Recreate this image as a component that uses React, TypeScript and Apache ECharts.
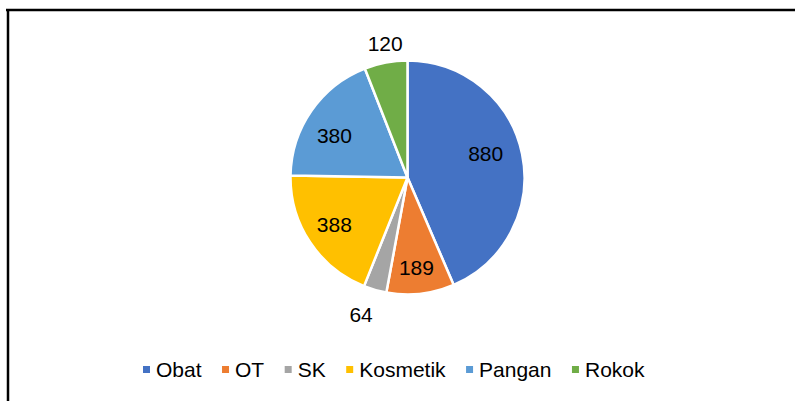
import React, { useEffect, useRef } from "react";
import * as echarts from "echarts";

const categories = ["Obat", "OT", "SK", "Kosmetik", "Pangan", "Rokok"];
const values = [880, 189, 64, 388, 380, 120];
const colors = ["#4472C4", "#ED7D31", "#A5A5A5", "#FFC000", "#5B9BD5", "#70AD47"];
const outsideLabelNames = ["SK", "Rokok"];
// fine-tuning of label placement (style only)
const labelOffsets: Record<string, number[]> = {
  Obat: [-9, -6],
  OT: [-1, 2],
  SK: [-7, 1],
  Kosmetik: [1, -2],
  Pangan: [0, 9],
  Rokok: [4, 6],
};

const FONT = "'Liberation Sans', Arial, sans-serif";

export default function App() {
  const ref = useRef<HTMLDivElement>(null);
  useEffect(() => {
    if (!ref.current) return;
    const chart = echarts.init(ref.current, null, { renderer: "svg" });
    const center = [407.5, 177.5];
    const baseData = categories.map((name, i) => ({ name, value: values[i] }));
    const labelStyle = { color: "#000", fontSize: 21, fontFamily: FONT };
    const labelData = (outside: boolean) =>
      baseData.map((d) => ({
        ...d,
        label: {
          show: outsideLabelNames.includes(d.name) === outside,
          position: "inside",
          formatter: "{c}",
          offset: labelOffsets[d.name],
          ...labelStyle,
        },
      }));
    const labelSeries = (name: string, radius: number[], outside: boolean) => ({
      type: "pie",
      name,
      center,
      radius,
      startAngle: 90,
      clockwise: true,
      silent: true,
      legendHoverLink: false,
      itemStyle: { color: "rgba(0,0,0,0)", borderWidth: 0 },
      labelLine: { show: false },
      emphasis: { disabled: true },
      data: labelData(outside),
    });
    chart.setOption({
      animation: false,
      color: colors,
      textStyle: { fontFamily: FONT },
      graphic: [
        { type: "line", shape: { x1: 6, y1: 10, x2: 795, y2: 10 }, style: { stroke: "#000", lineWidth: 2.5 } },
        { type: "line", shape: { x1: 8, y1: 9, x2: 8, y2: 401 }, style: { stroke: "#000", lineWidth: 2.5 } },
      ],
      legend: {
        data: categories,
        left: 136,
        top: 354,
        icon: "rect",
        itemWidth: 9,
        itemHeight: 9,
        itemGap: 18.5,
        textStyle: { fontSize: 21, color: "#000", fontFamily: FONT },
        selectedMode: false,
      },
      series: [
        {
          type: "pie",
          name: "main",
          center,
          radius: [0, 117],
          startAngle: 90,
          clockwise: true,
          label: { show: false },
          labelLine: { show: false },
          itemStyle: { borderColor: "#fff", borderWidth: 2.5 },
          emphasis: { disabled: true },
          data: baseData,
        },
        labelSeries("innerLabels", [56, 116], false),
        labelSeries("outerLabels", [126, 152], true),
      ],
    });
    return () => chart.dispose();
  }, []);
  return (
    <div
      ref={ref}
      style={{ position: "fixed", left: 0, top: 0, width: 795, height: 401, background: "#fff" }}
    />
  );
}
